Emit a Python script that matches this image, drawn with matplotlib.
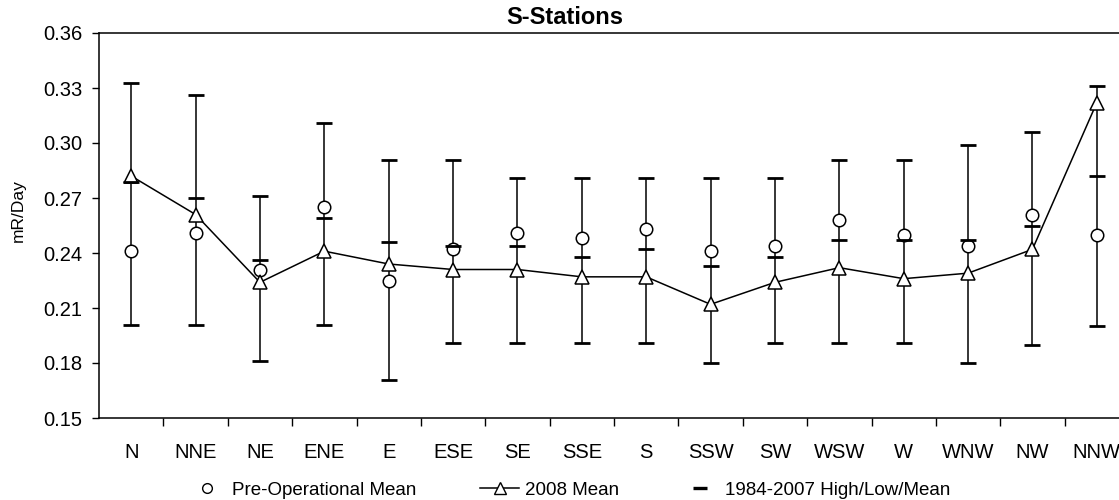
import matplotlib
matplotlib.use('Agg')
import matplotlib.pyplot as plt
from matplotlib.lines import Line2D
import numpy as np

# Wind sector categories
sectors = ['N', 'NNE', 'NE', 'ENE', 'E', 'ESE', 'SE', 'SSE',
           'S', 'SSW', 'SW', 'WSW', 'W', 'WNW', 'NW', 'NNW']

# Pre-operational mean (circles)
pre_op_mean = [0.241, 0.251, 0.231, 0.265, 0.225, 0.242, 0.251, 0.248,
               0.253, 0.241, 0.244, 0.258, 0.250, 0.244, 0.261, 0.250]

# 2008 mean (triangles, joined)
mean_2008 = [0.282, 0.261, 0.224, 0.241, 0.234, 0.231, 0.231, 0.227,
             0.227, 0.212, 0.224, 0.232, 0.226, 0.229, 0.242, 0.322]

# 1984-2007 high / low / mean
hist_high = [0.333, 0.326, 0.271, 0.311, 0.291, 0.291, 0.281, 0.281,
             0.281, 0.281, 0.281, 0.291, 0.291, 0.299, 0.306, 0.331]
hist_low = [0.201, 0.201, 0.181, 0.201, 0.171, 0.191, 0.191, 0.191,
            0.191, 0.180, 0.191, 0.191, 0.191, 0.180, 0.190, 0.200]
hist_mean = [0.279, 0.270, 0.236, 0.259, 0.246, 0.244, 0.244, 0.238,
             0.242, 0.233, 0.238, 0.247, 0.247, 0.247, 0.255, 0.282]

plt.rcParams['font.family'] = ['Liberation Sans', 'DejaVu Sans']

fig = plt.figure(figsize=(11.19, 5.0), dpi=100)
# axes run past the right edge of the figure, as in the cropped original
ax = fig.add_axes([99 / 1119, 1 - 418 / 500, 1030 / 1119, 385 / 500])

x = np.arange(len(sectors))

# high-low range lines
ax.vlines(x, hist_low, hist_high, color='black', linewidth=1.1, zorder=2)

# pre-operational mean circles
ax.plot(x, pre_op_mean, linestyle='none', marker='o', markersize=9,
        markerfacecolor='white', markeredgecolor='black', markeredgewidth=1.1,
        zorder=3)

# 2008 mean line with triangles
ax.plot(x, mean_2008, color='black', linewidth=1.1, marker='^', markersize=10,
        markerfacecolor='white', markeredgecolor='black', markeredgewidth=1.1,
        zorder=4)

# high / low / mean dashes
for vals in (hist_high, hist_low, hist_mean):
    ax.plot(x, vals, linestyle='none', marker='_', markersize=11,
            markeredgewidth=2.0, color='black', zorder=5)

ax.set_xlim(-0.5, len(sectors) - 0.5)
ax.set_ylim(0.15, 0.36)
yt = np.arange(0.15, 0.361, 0.03)
ax.set_yticks(yt)
ax.set_yticklabels([f'{v:.2f}' for v in yt])

ax.set_xticks(x)
ax.set_xticklabels(sectors)
ax.set_xticks(np.arange(0.5, len(sectors) - 0.5, 1), minor=True)
ax.tick_params(axis='x', which='major', length=0, pad=18, labelsize=14.5)
ax.tick_params(axis='x', which='minor', length=6, width=1, direction='out')
ax.tick_params(axis='y', length=5, width=1, direction='out', labelsize=14.5, pad=7)

for s in ax.spines.values():
    s.set_linewidth(1.1)
    s.set_color('black')

fig.text(18 / 1119, 1 - 211 / 500, 'mR/Day', rotation=90, ha='center',
         va='center', fontsize=12.5)

fig.text(565 / 1119, 1 - 18 / 500, 'S-Stations', ha='center', va='center',
         fontsize=17, fontweight='bold')

# legend entries placed along the bottom
handles = [
    Line2D([], [], linestyle='none', marker='o', markersize=7,
           markerfacecolor='white', markeredgecolor='black'),
    Line2D([], [], color='black', linewidth=1.1, marker='^', markersize=9,
           markerfacecolor='white', markeredgecolor='black'),
    Line2D([], [], linestyle='none', marker='_', markersize=10,
           markeredgewidth=2.4, color='black'),
]
labels = ['Pre-Operational Mean', '2008 Mean', '1984-2007 High/Low/Mean']
starts = [187, 480, 680]
for h, lab, xs in zip(handles, labels, starts):
    fig.legend([h], [lab], loc='center left',
               bbox_to_anchor=(xs / 1119, 1 - 490 / 500),
               frameon=False, fontsize=13.5, handlelength=2.1,
               handletextpad=0.3, borderpad=0, borderaxespad=0)

fig.savefig('out.png', dpi=100, facecolor='white')
